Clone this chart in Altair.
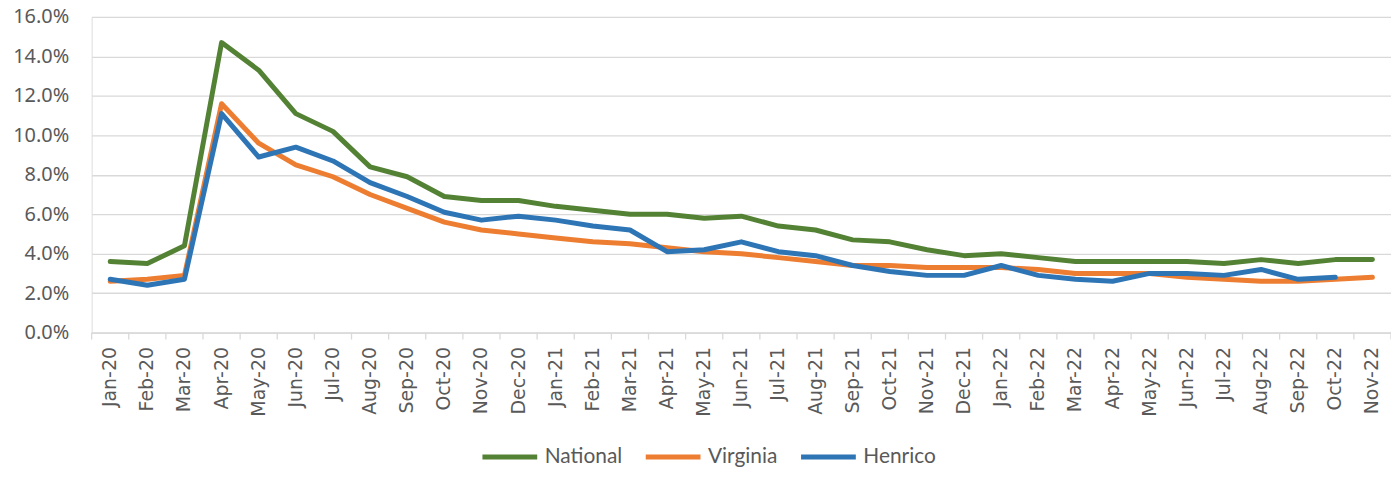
import altair as alt
import pandas as pd

months = ["Jan-20","Feb-20","Mar-20","Apr-20","May-20","Jun-20","Jul-20","Aug-20","Sep-20","Oct-20","Nov-20","Dec-20",
          "Jan-21","Feb-21","Mar-21","Apr-21","May-21","Jun-21","Jul-21","Aug-21","Sep-21","Oct-21","Nov-21","Dec-21",
          "Jan-22","Feb-22","Mar-22","Apr-22","May-22","Jun-22","Jul-22","Aug-22","Sep-22","Oct-22","Nov-22"]

national = [3.6,3.5,4.4,14.7,13.3,11.1,10.2,8.4,7.9,6.9,6.7,6.7,
            6.4,6.2,6.0,6.0,5.8,5.9,5.4,5.2,4.7,4.6,4.2,3.9,
            4.0,3.8,3.6,3.6,3.6,3.6,3.5,3.7,3.5,3.7,3.7]
virginia = [2.6,2.7,2.9,11.6,9.6,8.5,7.9,7.0,6.3,5.6,5.2,5.0,
            4.8,4.6,4.5,4.3,4.1,4.0,3.8,3.6,3.4,3.4,3.3,3.3,
            3.3,3.2,3.0,3.0,3.0,2.8,2.7,2.6,2.6,2.7,2.8]
henrico = [2.7,2.4,2.7,11.1,8.9,9.4,8.7,7.6,6.9,6.1,5.7,5.9,
           5.7,5.4,5.2,4.1,4.2,4.6,4.1,3.9,3.4,3.1,2.9,2.9,
           3.4,2.9,2.7,2.6,3.0,3.0,2.9,3.2,2.7,2.8,None]

series_names = ["National", "Virginia", "Henrico"]
series_colors = ["#548235", "#ED7D31", "#2E75B6"]
y_ticks = [0, 2, 4, 6, 8, 10, 12, 14, 16]

rows = []
for name, vals in zip(series_names, [national, virginia, henrico]):
    for m, v in zip(months, vals):
        if v is not None:
            rows.append({"month": m, "series": name, "value": v})
df = pd.DataFrame(rows)
ticks_df = pd.DataFrame({"month": months})

W, H = 1305, 317
xscale = alt.Scale(type="band", domain=months, paddingInner=0, paddingOuter=0)
yscale = alt.Scale(domain=[0, 16])
cscale = alt.Scale(domain=series_names, range=series_colors)

xaxis = alt.Axis(title=None, labelAngle=270, labelPadding=14, labelFontSize=19,
                 labelColor="#595959", labelFont="DejaVu Sans", ticks=False,
                 domainColor="#D9D9D9", domainWidth=1.3, grid=False, labelOverlap=False)
yaxis = alt.Axis(title=None, values=y_ticks, labelExpr="format(datum.value, '.1f') + '%'",
                 labelFontSize=20, labelColor="#595959", labelFont="Noto Sans",
                 labelPadding=23, ticks=False, domain=False, grid=True,
                 gridColor="#D9D9D9", gridWidth=1.3)

legend = alt.Legend(title=None, orient="none", legendX=390, legendY=412, direction="horizontal",
                    symbolType="stroke", symbolSize=3025, symbolStrokeWidth=5,
                    labelFontSize=21, labelColor="#595959", labelFont="Lato",
                    columnPadding=13, labelOffset=5, symbolOffset=0)

layers = []
for name in series_names:
    layer = alt.Chart(df).transform_filter(alt.datum.series == name).mark_line(
        strokeWidth=5, strokeCap="round", strokeJoin="round"
    ).encode(
        x=alt.X("month:N", scale=xscale, sort=months, bandPosition=0.5, axis=xaxis),
        y=alt.Y("value:Q", scale=yscale, axis=yaxis),
        color=alt.Color("series:N", scale=cscale, legend=legend),
    )
    layers.append(layer)

tick_rules = alt.Chart(ticks_df).mark_rule(color="#D9D9D9", strokeWidth=1.3).encode(
    x=alt.X("month:N", scale=xscale, sort=months, bandPosition=0, axis=xaxis),
    y=alt.value(H),
    y2=alt.value(H + 7),
)
end_tick = alt.Chart(ticks_df.head(1)).mark_rule(color="#D9D9D9", strokeWidth=1.3).encode(
    x=alt.value(W), y=alt.value(H), y2=alt.value(H + 7),
)

chart = alt.layer(tick_rules, end_tick, *layers).properties(
    width=W, height=H,
    autosize=alt.AutoSizeParams(type="none"),
    padding={"left": 84, "top": 8, "right": 0, "bottom": 136},
).configure_view(strokeWidth=0).configure(background="white")

chart.save("out.html", embed_options={"renderer": "svg", "actions": False})
